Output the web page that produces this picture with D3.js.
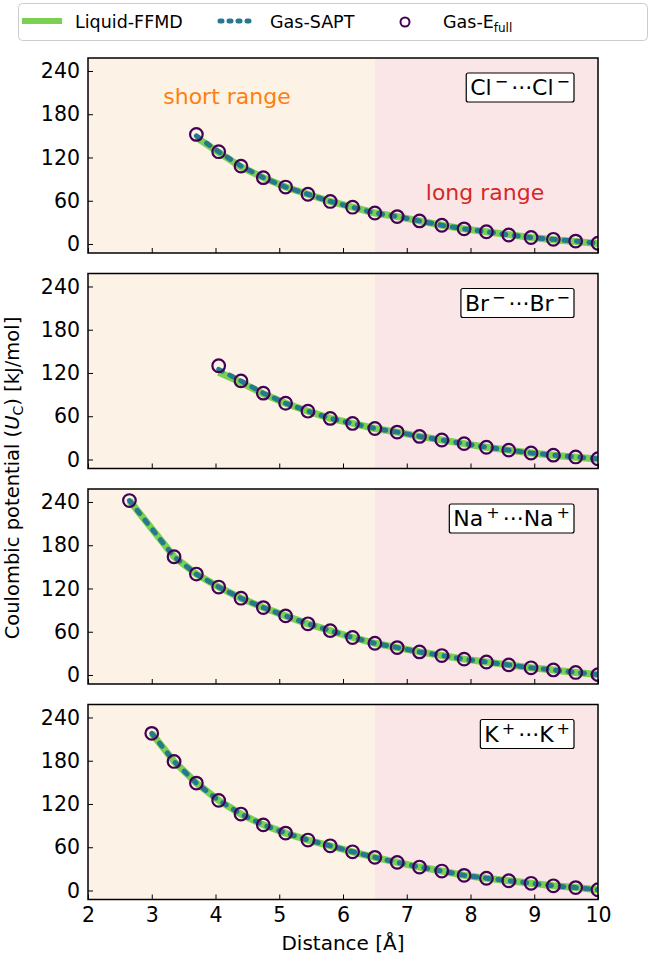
<!DOCTYPE html>
<html><head><meta charset="utf-8">
<script src="https://cdn.jsdelivr.net/npm/d3@7"></script>
<style>body{margin:0;background:#fff}svg{font-family:"DejaVu Sans",sans-serif}</style>
</head><body><svg id="c" width="666" height="957"></svg>
<script>
// ---- data ----
const xTicks = [2,3,4,5,6,7,8,9,10];
const yTicks = [0,60,120,180,240];
const longX = [6.85,7.2,7.55,7.9,8.25,8.6,8.95,9.3,9.65,10.0];

const clX = [3.7,4.05,4.4,4.75,5.1,5.45,5.8,6.15,6.5].concat(longX);
const clFFMD = [148,127,107,92,79,69,59,51,43,38,32,26,21,17,13,9,6,3.5,0.5];
const clSAPT = [150,128,108,92,79,69,59,51,43,38,32,26,21,17,12.5,9,6.5,4,1];
const clEfull = [152,128,108,92,79,69,59,51,43,38,32,26,21,17,12.5,9,6.5,4,1];

const brX = [4.05,4.4,4.75,5.1,5.45,5.8,6.15,6.5].concat(longX);
const brFFMD = [121,107,91,78,67,57,50,43,38,32,27,22,17,13,9,6,3,0.5];
const brSAPT = [125,109,92,78,67,57,50,43,38,32,27,22,17,13,9,6,3.5,1];
const brEfull = [130,109,92,78,67,57,50,43,38,32,27,22,17,13,9,6,3.5,1];

const naX = [2.65,3.35,3.7,4.05,4.4,4.75,5.1,5.45,5.8,6.15,6.5].concat(longX);
const naFFMD = [242,164,140,122,106.5,93.5,82,71,61.5,52,44,38,32,27,22,18,14,10,7,3.5,0.5];
const naSAPT = [242,164,140,122,106.5,93.5,82,71,61.5,52,44,38,32,27,22,18,14,10,7,3.5,0.5];
const naEfull = [242,164,140,122,106.5,93.5,82,71,61.5,52,44,38,32,27,22,18,14,10,7,3.5,0.5];

const kX = [3.0,3.35,3.7,4.05,4.4,4.75,5.1,5.45,5.8,6.15,6.5].concat(longX);
const kFFMD = [218,179,149,125,106,91,79.6,70,62,53.7,46,39,32.5,27,21,17,13.5,10,6.5,4,1];
const kSAPT = [218,179,149,125,106,91,79.6,70,62,53.7,46,39,32.5,27,21,17,13.5,10,6.5,4,1];
const kEfull = [218,179,149,125,106,91,79.6,70,62,53.7,46,39,32.5,27,21,17,13.5,10,6.5,4,1];

const panels = [
  {ion:"Cl", sign:"\u2212", x:clX, ffmd:clFFMD, sapt:clSAPT, efull:clEfull},
  {ion:"Br", sign:"\u2212", x:brX, ffmd:brFFMD, sapt:brSAPT, efull:brEfull},
  {ion:"Na", sign:"+", x:naX, ffmd:naFFMD, sapt:naSAPT, efull:naEfull},
  {ion:"K", sign:"+", x:kX, ffmd:kFFMD, sapt:kSAPT, efull:kEfull}
];
const rangeSplit = 6.5;

// ---- styles ----
const C_FFMD = "#7ad151", C_SAPT = "#26788e", C_EF = "#440154";
const BG_SHORT = "#fdf2e6", BG_LONG = "#fae6e7";

const svg = d3.select("#c");
const L = 88, R = 598, H = 195;
const x = d3.scaleLinear().domain([2,10]).range([L,R]);

panels.forEach((p,i) => {
  const top = 58 + i*215.5, bot = top + H;
  const y = d3.scaleLinear().domain([-12.5,258]).range([bot,top]);
  const g = svg.append("g");
  g.append("rect").attr("x",x(2)).attr("y",top).attr("width",x(rangeSplit)-x(2)).attr("height",H).attr("fill",BG_SHORT);
  g.append("rect").attr("x",x(rangeSplit)).attr("y",top).attr("width",x(10)-x(rangeSplit)).attr("height",H).attr("fill",BG_LONG);

  if(i===0){
    g.append("text").attr("x",227).attr("y",104).attr("text-anchor","middle").attr("font-size",22).attr("fill","#ff7f0e").text("short range");
    g.append("text").attr("x",485).attr("y",200).attr("text-anchor","middle").attr("font-size",22).attr("fill","#d62728").text("long range");
  }

  const pts = (arr) => p.x.map((v,k)=>[v,arr[k]]);
  const line = d3.line().x(d=>x(d[0])).y(d=>y(d[1]));
  const clip = "clip"+i;
  svg.append("clipPath").attr("id",clip).append("rect").attr("x",L).attr("y",top).attr("width",R-L).attr("height",H);
  const dg = g.append("g").attr("clip-path",`url(#${clip})`);
  dg.append("path").attr("d",line(pts(p.ffmd))).attr("fill","none").attr("stroke",C_FFMD).attr("stroke-width",7);
  dg.append("path").attr("d",line(pts(p.sapt))).attr("fill","none").attr("stroke",C_SAPT).attr("stroke-width",5)
    .attr("stroke-dasharray","4,8.5").attr("stroke-linecap","round");
  dg.selectAll("circle").data(pts(p.efull)).join("circle")
    .attr("cx",d=>x(d[0])).attr("cy",d=>y(d[1])).attr("r",6.3)
    .attr("fill","none").attr("stroke",C_EF).attr("stroke-width",2.2);

  // axes
  const ya = d3.axisLeft(y).tickValues(yTicks).tickSize(-5).tickPadding(8);
  const yg = g.append("g").attr("transform",`translate(${L},0)`).call(ya);
  const xa = d3.axisBottom(x).tickValues(xTicks).tickSize(-5).tickPadding(10).tickFormat(i===3?d3.format("d"):"");
  const xg = g.append("g").attr("transform",`translate(0,${bot})`).call(xa);
  [yg,xg].forEach(a=>{
    a.select(".domain").remove();
    a.attr("font-size",20.5).attr("font-family","DejaVu Sans");
    a.selectAll("line").attr("stroke","#000").attr("stroke-width",1);
    a.selectAll("text").attr("fill","#000");
  });
  xg.selectAll("text").attr("dy","0.6em");
  g.append("rect").attr("x",L).attr("y",top).attr("width",R-L).attr("height",H)
    .attr("fill","none").attr("stroke","#000").attr("stroke-width",1.5);

  // ion label box
  const box = g.append("rect");
  const lab = g.append("text").attr("y",top+37).attr("font-size",22).attr("fill","#000");
  lab.append("tspan").text(p.ion);
  lab.append("tspan").attr("dx",3).attr("dy",-8).attr("font-size",16).text(p.sign);
  lab.append("tspan").attr("dx",3).attr("dy",8).text("\u00b7\u00b7\u00b7"+p.ion);
  lab.append("tspan").attr("dx",3).attr("dy",-8).attr("font-size",16).text(p.sign);
  const bb = lab.node().getBBox();
  lab.attr("x",570 - bb.width);
  const bb2 = lab.node().getBBox();
  box.attr("x",bb2.x-4).attr("y",top+15).attr("width",bb2.width+8).attr("height",29)
    .attr("rx",2).attr("fill","#fff").attr("stroke","#000").attr("stroke-width",1.2);
});

// axis titles
svg.append("text").attr("x",(L+R)/2).attr("y",950).attr("text-anchor","middle").attr("font-size",20).text("Distance [\u00c5]");
const yl = svg.append("text").attr("transform","translate(19,478) rotate(-90)").attr("text-anchor","middle").attr("font-size",19.5);
yl.append("tspan").text("Coulombic potential (");
yl.append("tspan").attr("font-style","italic").text("U");
yl.append("tspan").attr("dy",4).attr("font-size",14).text("C");
yl.append("tspan").attr("dy",-4).text(") [kJ/mol]");

// legend
const lg = svg.append("g");
lg.append("rect").attr("x",18.5).attr("y",3.5).attr("width",629).attr("height",37).attr("rx",4)
  .attr("fill","#fff").attr("stroke","#ccc").attr("stroke-width",1);
lg.append("line").attr("x1",22).attr("x2",62).attr("y1",21).attr("y2",21).attr("stroke",C_FFMD).attr("stroke-width",6);
lg.append("text").attr("x",75).attr("y",28).attr("font-size",17.5).text("Liquid-FFMD");
lg.append("line").attr("x1",220).attr("x2",253).attr("y1",21).attr("y2",21).attr("stroke",C_SAPT).attr("stroke-width",5)
  .attr("stroke-dasharray","2,7").attr("stroke-linecap","round");
lg.append("text").attr("x",270).attr("y",28).attr("font-size",17.5).text("Gas-SAPT");
lg.append("circle").attr("cx",405).attr("cy",22).attr("r",4.5).attr("fill","none").attr("stroke",C_EF).attr("stroke-width",2);
const lt = lg.append("text").attr("x",443).attr("y",28).attr("font-size",17.5);
lt.append("tspan").text("Gas-E");
lt.append("tspan").attr("dy",4).attr("font-size",12).text("full");
</script></body></html>
